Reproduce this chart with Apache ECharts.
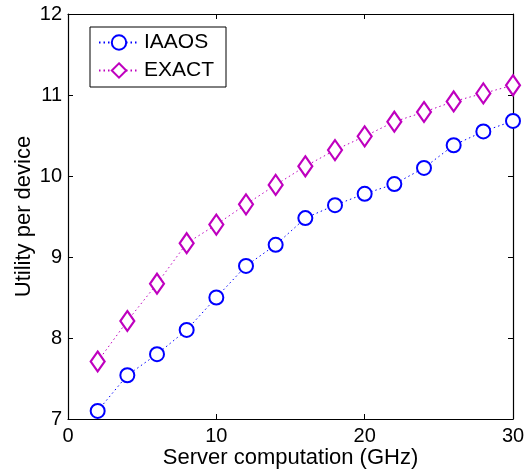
<!DOCTYPE html>
<html>
<head>
<meta charset="utf-8">
<script src="https://cdn.jsdelivr.net/npm/echarts@6/dist/echarts.min.js"></script>
<style>
  html, body { margin: 0; padding: 0; background: #fff; }
  #chart { width: 531px; height: 473px; }
</style>
</head>
<body>
<div id="chart"></div>
<script>
// Server computation capacity (GHz)
const serverGHz = [2, 4, 6, 8, 10, 12, 14, 16, 18, 20, 22, 24, 26, 28, 30];
// Utility per device for each scheme
const iaaosUtility = [7.10, 7.54, 7.80, 8.10, 8.50, 8.89, 9.15, 9.48, 9.64, 9.78, 9.90, 10.10, 10.38, 10.55, 10.68];
const exactUtility = [7.71, 8.21, 8.67, 9.17, 9.40, 9.65, 9.89, 10.12, 10.32, 10.49, 10.67, 10.79, 10.92, 11.02, 11.12];
const xTicks = [0, 10, 20, 30];
const yTicks = [7, 8, 9, 10, 11, 12];

const FONT = '"Liberation Sans", Arial, sans-serif';
const pairs = (ys) => serverGHz.map((x, i) => [x, ys[i]]);

const axisLine = { show: true, onZero: false, lineStyle: { color: '#000', width: 1.2 } };
const axisTick = { show: true, inside: true, length: 5, lineStyle: { color: '#000', width: 1 } };

const chart = echarts.init(document.getElementById('chart'), null, { renderer: 'canvas' });
chart.setOption({
  animation: false,
  backgroundColor: '#fff',
  grid: { left: 68, right: 18, top: 14, bottom: 54, containLabel: false, outerBoundsMode: 'none' },
  xAxis: [
    {
      type: 'value', position: 'bottom',
      min: xTicks[0], max: xTicks[xTicks.length - 1], interval: 10,
      name: 'Server computation (GHz)', nameLocation: 'middle', nameGap: 28, nameMoveOverlap: false,
      nameTextStyle: { fontFamily: FONT, fontSize: 22, color: '#000' },
      axisLine, axisTick, splitLine: { show: false },
      axisLabel: { fontFamily: FONT, fontSize: 20, color: '#000', margin: 7 }
    },
    {
      type: 'value', position: 'top',
      min: xTicks[0], max: xTicks[xTicks.length - 1], interval: 10,
      axisLine, axisTick, splitLine: { show: false }, axisLabel: { show: false }
    }
  ],
  yAxis: [
    {
      type: 'value', position: 'left',
      min: yTicks[0], max: yTicks[yTicks.length - 1], interval: 1,
      name: 'Utility per device', nameLocation: 'middle', nameGap: 33, nameMoveOverlap: false,
      nameTextStyle: { fontFamily: FONT, fontSize: 22, color: '#000' },
      axisLine, axisTick, splitLine: { show: false },
      axisLabel: { fontFamily: FONT, fontSize: 20, color: '#000', margin: 6 }
    },
    {
      type: 'value', position: 'right',
      min: yTicks[0], max: yTicks[yTicks.length - 1], interval: 1,
      axisLine, axisTick, splitLine: { show: false }, axisLabel: { show: false }
    }
  ],
  legend: {
    orient: 'vertical', left: 90, top: 27,
    padding: [5, 12, 6, 8], itemGap: 7, itemWidth: 40, itemHeight: 18,
    backgroundColor: '#fff', borderColor: '#000', borderWidth: 1, borderRadius: 0,
    textStyle: { fontFamily: FONT, fontSize: 21, color: '#000' },
    data: ['IAAOS', 'EXACT']
  },
  series: [
    {
      name: 'IAAOS', type: 'line', data: pairs(iaaosUtility),
      symbol: 'emptyCircle', symbolSize: 14,
      itemStyle: { color: '#0000ff', borderColor: '#0000ff', borderWidth: 2.2 },
      lineStyle: { color: '#0000ff', width: 1, type: [1.5, 3] }
    },
    {
      name: 'EXACT', type: 'line', data: pairs(exactUtility),
      symbol: 'diamond', symbolSize: [14, 20],
      itemStyle: { color: '#fff', borderColor: '#bf00bf', borderWidth: 2.2 },
      lineStyle: { color: '#bf00bf', width: 1, type: [1.5, 3] }
    }
  ]
});
</script>
</body>
</html>
